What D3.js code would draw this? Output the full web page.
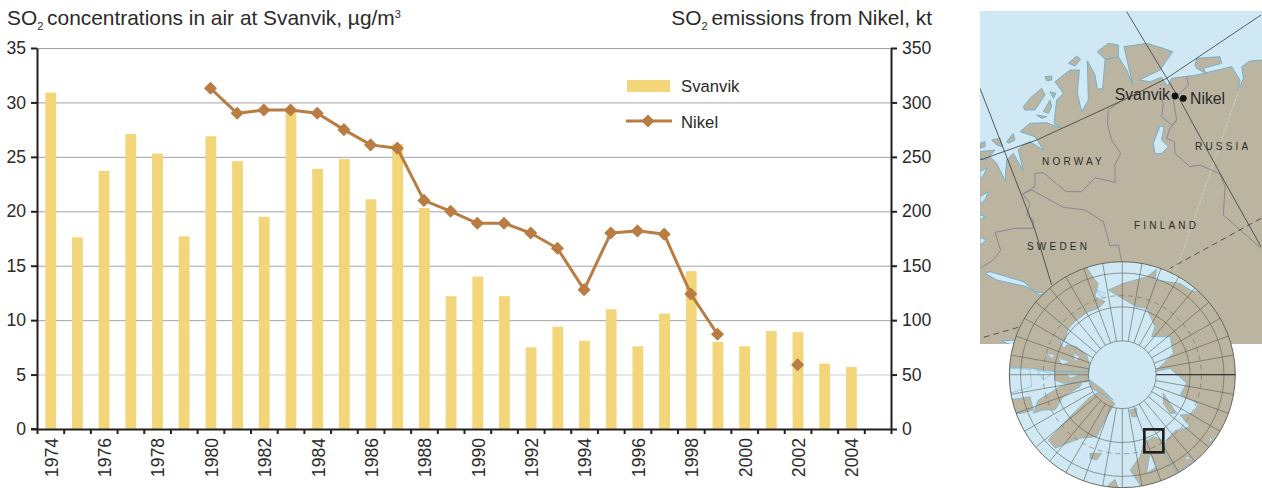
<!DOCTYPE html>
<html><head><meta charset="utf-8">
<script src="https://cdn.jsdelivr.net/npm/d3@7"></script>
<style>html,body{margin:0;padding:0;background:#fff}svg{display:block}text{font-family:"Liberation Sans",Arial,sans-serif;fill:#2b2a29}</style>
</head><body><svg id="c" width="1262" height="488"></svg>
<script>
const years = d3.range(1974, 2006);
const yearLabels = d3.range(1974, 2005, 2);
const svanvik = [30.9,17.6,23.7,27.1,25.3,17.7,26.9,24.6,19.5,29.4,23.9,24.8,21.1,26.2,20.3,12.2,14.0,12.2,7.5,9.4,8.1,11.0,7.6,10.6,14.5,8.0,7.6,9.0,8.9,6.0,5.7,null];
const nikel = [null,null,null,null,null,null,313,290,293,293,290,275,261,258,210,200,189,189,180,166,128,180,182,179,124,87,null,null,59,null,null,null];
const leftTicks = [0,5,10,15,20,25,30,35];
const rightTicks = [0,50,100,150,200,250,300,350];

// Decorative locator map outlines (traced at 3x from map origin)
const mainland = [[-10,482],[30,470],[50,490],[75,542],[80,480],[100,460],[130,512],[115,450],[130,435],[150,425],[190,450],[165,410],[120,395],[150,370],[200,368],[245,385],[222,370],[230,300],[250,280],[225,245],[270,210],[298,210],[292,280],[305,335],[325,300],[322,182],[345,225],[352,268],[368,265],[375,180],[415,170],[440,210],[458,255],[432,140],[500,130],[550,145],[578,155],[540,210],[478,240],[510,245],[545,232],[562,258],[575,235],[650,225],[755,200],[780,240],[775,272],[790,235],[785,200],[810,183],[850,180],[850,1036],[-10,1036]];
const islands = [
 [[352,155],[385,130],[415,135],[415,170],[375,178]],
 [[265,190],[290,168],[302,178],[285,198]],
 [[195,230],[215,228],[215,240],[200,242]],
 [[130,320],[150,295],[185,265],[195,285],[165,330],[135,330]],
 [[190,335],[210,300],[215,320],[205,340]],
 [[210,275],[228,280],[220,295]],
 [[170,345],[200,350],[185,355]],
 [[80,425],[100,400],[105,420],[85,430]],
 [[650,175],[720,170],[725,190],[670,205],[680,222],[650,205],[645,195]],
 [[0,455],[45,450],[20,480],[0,475]],
 [[35,420],[60,415],[68,440],[50,435]],
 [[0,430],[15,425],[15,440],[0,445]]
];
const lakes = [
 [[540,378],[552,380],[545,420],[565,440],[545,460],[525,462],[520,430]],
 [[15,820],[30,815],[130,845],[165,875],[195,880],[180,885],[140,860],[50,840]],
 [[65,1022],[105,1020],[100,1036],[80,1030]],
 [[0,515],[22,503],[8,530],[0,535]],
 [[0,590],[25,575],[15,600],[0,612]],
 [[0,645],[15,650],[0,660]],
 [[0,712],[20,720],[0,735]]
];
const borders = [
 [[420,305],[385,330],[382,370],[395,420],[422,460],[405,495],[405,547],[345,533],[305,575],[258,575],[190,518],[165,520],[165,560],[128,582],[150,610],[140,645],[160,660],[160,685],[105,685],[45,697],[62,750],[40,780],[0,805]],
 [[128,582],[155,570],[250,622],[315,630],[370,665],[390,737],[415,735],[425,785]],
 [[620,228],[625,255],[580,300],[590,360],[575,375],[545,350],[550,310],[540,290]],
 [[590,360],[570,385],[560,415],[583,425],[585,460],[630,500],[660,495],[720,522],[735,560],[730,645],[843,745]]
];
const gridLines = [
 [[440,35],[500,135],[600,300],[720,520],[843,740]],
 [[0,265],[165,690],[215,855]],
 [[843,45],[560,235],[420,305],[170,420],[0,480]]
];
const dashedLines = [[[843,655],[670,750],[570,805]],[[115,982],[0,1015]]];
const paleLine = [[780,260],[610,750],[560,880]];
const mapLabels = [["NORWAY",1042,165],["RUSSIA",1195,150],["FINLAND",1134,229],["SWEDEN",1027,250]];
const towns = [["Svanvik",1175,96],["Nikel",1183.3,98.3]];

// Polar inset outlines (traced at 3x from inset origin)
const polarLand = [
 [[385,150],[425,175],[470,200],[500,205],[525,260],[515,290],[570,290],[580,340],[525,395],[570,385],[620,430],[600,465],[655,490],[640,520],[600,525],[630,560],[585,572],[560,600],[550,640],[590,700],[640,665],[860,640],[860,120],[640,155],[600,130],[525,120],[530,88],[500,110],[430,130]],
 [[345,120],[355,130],[345,170],[375,185],[355,205],[325,215],[290,240],[265,265],[255,300],[240,310],[290,320],[320,345],[328,372],[328,395],[225,395],[150,385],[60,380],[50,80],[305,60]],
 [[60,462],[100,478],[150,470],[160,510],[125,520],[60,520]],
 [[205,600],[260,540],[330,470],[360,455],[405,490],[380,530],[350,590],[300,595],[225,625]],
 [[160,520],[175,480],[240,440],[310,415],[300,440],[250,470],[225,510],[190,510]],
 [[225,395],[325,395],[325,425],[250,430],[225,420]],
 [[330,420],[370,450],[400,480],[335,445]],
 [[330,640],[365,640],[350,660],[330,655]],
 [[450,510],[470,505],[470,530],[455,530]],
 [[550,460],[590,520],[570,520],[550,490]],
 [[450,690],[480,650],[490,610],[520,590],[550,600],[555,640],[590,700],[560,745],[490,750],[470,720]],
 [[385,735],[405,718],[415,745],[385,750]]
];
const polarSeaBits = [
 [[90,385],[150,388],[155,440],[120,450],[90,460]],
 [[200,340],[225,345],[215,355]],[[240,300],[265,310],[250,325]],[[170,390],[215,400],[190,420]],
 [[280,340],[300,350],[285,365]],[[235,355],[270,365],[245,375]],[[260,400],[300,405],[270,415]],
 [[350,150],[375,160],[365,172]],[[690,590],[698,600],[688,606]],[[615,650],[632,652],[622,660]],
 [[510,640],[530,680],[500,700]]
];
const polarColat = [15,30,45,50];
const meridians = d3.range(0,360,10);
const regionBox = [[493,568],[550,637]];

const svg = d3.select("#c");
const plotL = 37, plotR = 891, plotT = 48, plotB = 429;
const ink = "#231f20", barCol = "#f3d67a", lineCol = "#b97c43";
const fontStack = '"Liberation Sans",Arial,sans-serif';

const x = d3.scaleBand().domain(years).range([plotL,plotR]);
const xEdge = d3.scaleLinear().domain([1974,2006]).range([plotL,plotR]);
const yL = d3.scaleLinear().domain([0,35]).range([plotB,plotT]);
const yR = d3.scaleLinear().domain([0,350]).range([plotB,plotT]);

// grid
svg.append("g").selectAll("line").data(leftTicks.filter(d=>d>0)).join("line")
 .attr("x1",plotL).attr("x2",plotR).attr("y1",d=>yL(d)+.5).attr("y2",d=>yL(d)+.5)
 .attr("stroke",d=>d===5?"#dcdcdc":"#a3a3a6").attr("stroke-width",d=>d===5?1.4:1);

// bars
const barW = 10.8;
svg.append("g").selectAll("rect").data(years.map((y,i)=>({y,v:svanvik[i]})).filter(d=>d.v!=null)).join("rect")
 .attr("x",d=>x(d.y)+x.bandwidth()/2-barW/2+.4).attr("width",barW)
 .attr("y",d=>yL(d.v)).attr("height",d=>yL(0)-yL(d.v)).attr("fill",barCol);

// line
const pts = years.map((y,i)=>({y,v:nikel[i]}));
const cx = d=>x(d.y)+x.bandwidth()/2;
const connected = pts.filter(d=>d.v!=null && d.y<2000);
svg.append("path").datum(connected)
 .attr("d",d3.line().x(cx).y(d=>yR(d.v))).attr("fill","none").attr("stroke",lineCol).attr("stroke-width",3);
const diamond = d3.symbol().type(d3.symbolSquare).size(86);
svg.append("g").selectAll("path").data(pts.filter(d=>d.v!=null)).join("path")
 .attr("d",diamond).attr("fill",lineCol)
 .attr("transform",d=>`translate(${cx(d)},${yR(d.v)}) rotate(45)`);

// axes
function styleAxis(g){
 g.selectAll(".domain").attr("stroke",ink).attr("stroke-width",2);
 g.selectAll(".tick line").attr("stroke",ink).attr("stroke-width",2);
 g.selectAll("text").style("font-family",fontStack).style("font-size","17.6px").attr("fill","#2b2a29");
}
svg.append("g").attr("transform",`translate(${plotL},0)`)
 .call(d3.axisLeft(yL).tickValues(leftTicks).tickSize(6).tickSizeOuter(0).tickPadding(5)).call(styleAxis);
svg.append("g").attr("transform",`translate(${plotR},0)`)
 .call(d3.axisRight(yR).tickValues(rightTicks).tickSize(6).tickSizeOuter(0).tickPadding(5)).call(styleAxis);
svg.append("g").attr("transform",`translate(0,${plotB})`)
 .call(d3.axisBottom(xEdge).tickValues(d3.range(1974,2007)).tickFormat("").tickSize(5).tickSizeOuter(0)).call(styleAxis);
svg.append("line").attr("x1",31).attr("x2",plotL).attr("y1",plotB).attr("y2",plotB).attr("stroke",ink).attr("stroke-width",2);
const labelAxis = svg.append("g").attr("transform",`translate(1,${plotB})`)
 .call(d3.axisBottom(x).tickValues(yearLabels).tickSize(0).tickPadding(0));
labelAxis.select(".domain").remove();
labelAxis.selectAll("text").attr("transform","rotate(-90)").attr("x",-9).attr("y",0).attr("dy","0.36em")
 .attr("text-anchor","end").style("font-family",fontStack).style("font-size","17.6px").attr("fill","#2b2a29");

// titles
function title(xp,anchor,a,sup){
 const t = svg.append("text").attr("x",xp).attr("y",25).attr("text-anchor",anchor).style("font-size","20.9px");
 t.append("tspan").text("SO");
 t.append("tspan").attr("dy",5).style("font-size","11px").text("2");
 t.append("tspan").attr("dy",-5).attr("dx",-2).text(a);
 if(sup){t.append("tspan").attr("dy",-7).style("font-size","11px").text(sup);}
}
title(7,"start"," concentrations in air at Svanvik, µg/m","3");
title(932,"end"," emissions from Nikel, kt");

// legend
svg.append("rect").attr("x",627).attr("y",80).attr("width",43).attr("height",12).attr("fill",barCol);
svg.append("text").attr("x",681).attr("y",92).style("font-size","16.7px").text("Svanvik");
svg.append("line").attr("x1",626).attr("x2",672).attr("y1",121).attr("y2",121).attr("stroke",lineCol).attr("stroke-width",3);
svg.append("path").attr("d",diamond).attr("fill",lineCol).attr("transform","translate(648,121) rotate(45)");
svg.append("text").attr("x",681).attr("y",128).style("font-size","16.7px").text("Nikel");

// ---- locator map
const mapG = svg.append("g");
const defs = svg.append("defs");
defs.append("clipPath").attr("id","mapClip").append("rect").attr("x",980).attr("y",11).attr("width",282).attr("height",333);
const mx = d3.scaleLinear().domain([0,843]).range([980,1261]);
const my = d3.scaleLinear().domain([0,750]).range([0,250]);
const mline = d3.line().x(d=>mx(d[0])).y(d=>my(d[1]));
const mg = mapG.append("g").attr("clip-path","url(#mapClip)");
const sea="#cfe8f3", land="#bab4a1", coast="#6aaecb", border="#8d8590";
mg.append("rect").attr("x",980).attr("y",11).attr("width",282).attr("height",333).attr("fill",sea);
mg.append("path").attr("d",mline(mainland)+"Z").attr("fill",land).attr("stroke",coast).attr("stroke-width",.9);
mg.selectAll(".isl").data(islands).join("path").attr("class","isl").attr("d",d=>mline(d)+"Z").attr("fill",land).attr("stroke",coast).attr("stroke-width",.9);
mg.selectAll(".lake").data(lakes).join("path").attr("class","lake").attr("d",d=>mline(d)+"Z").attr("fill",sea).attr("stroke",coast).attr("stroke-width",.9);
mg.selectAll(".bord").data(borders).join("path").attr("class","bord").attr("d",mline).attr("fill","none").attr("stroke",border).attr("stroke-width",1);
mg.append("path").attr("d",mline(paleLine)).attr("fill","none").attr("stroke","#cfd6c4").attr("stroke-width",.8).attr("stroke-dasharray","3 1");
mg.selectAll(".gr").data(gridLines).join("path").attr("class","gr").attr("d",mline).attr("fill","none").attr("stroke","#3a3a3a").attr("stroke-width",.8);
mg.selectAll(".da").data(dashedLines).join("path").attr("class","da").attr("d",mline).attr("fill","none").attr("stroke","#3a3a3a").attr("stroke-width",.8).attr("stroke-dasharray","6 4");

// ---- polar inset
const R = 113, pcx = 1122.3, pcy = 374.7;
const proj = d3.geoAzimuthalEquidistant().rotate([0,-90]).scale(R/(50*Math.PI/180)).translate([pcx,pcy]).clipAngle(90);
const geo = d3.geoPath(proj);
defs.append("clipPath").attr("id","polarClip").append("circle").attr("cx",pcx).attr("cy",pcy).attr("r",R);
const pg = mapG.append("g");
pg.append("circle").attr("cx",pcx).attr("cy",pcy).attr("r",R).attr("fill",sea);
const px = d3.scaleLinear().domain([0,843]).range([980,1261]);
const py = d3.scaleLinear().domain([0,744]).range([240,488]);
const pline = d3.line().x(d=>px(d[0])).y(d=>py(d[1]));
const pin = pg.append("g").attr("clip-path","url(#polarClip)");
pin.selectAll(".pl").data(polarLand).join("path").attr("class","pl").attr("d",d=>pline(d)+"Z").attr("fill",land).attr("stroke",coast).attr("stroke-width",.6);
pin.selectAll(".ps").data(polarSeaBits).join("path").attr("class","ps").attr("d",d=>pline(d)+"Z").attr("fill",sea).attr("stroke",coast).attr("stroke-width",.5);
// graticule
const meridianGeo = meridians.map(l=>({type:"LineString",coordinates:d3.range(75,39,-5).map(lat=>[l,lat])}));
pg.selectAll(".me").data(meridianGeo).join("path").attr("class","me").attr("d",geo).attr("fill","none").attr("stroke","#5d5a52").attr("stroke-width",.6);
pg.selectAll(".ring").data(polarColat).join("circle").attr("class","ring").attr("cx",pcx).attr("cy",pcy).attr("r",d=>R*d/50).attr("fill","none").attr("stroke","#5d5a52").attr("stroke-width",d=>d===50?.9:.6);
pg.append("circle").attr("cx",pcx).attr("cy",pcy).attr("r",R*35/50).attr("fill","none").attr("stroke","#5d5a52").attr("stroke-width",.5).attr("stroke-dasharray","5 4");
pg.append("line").attr("x1",pcx+R*15/50).attr("x2",pcx+R).attr("y1",pcy).attr("y2",pcy).attr("stroke","#222").attr("stroke-width",1);
pg.append("rect").attr("x",px(regionBox[0][0])).attr("y",py(regionBox[0][1]))
 .attr("width",px(regionBox[1][0])-px(regionBox[0][0])).attr("height",py(regionBox[1][1])-py(regionBox[0][1]))
 .attr("fill","none").attr("stroke","#1f1d1c").attr("stroke-width",2.6);

// map text
mapG.selectAll(".ml").data(mapLabels).join("text").attr("class","ml").attr("x",d=>d[1]).attr("y",d=>d[2])
 .style("font-size","10px").style("letter-spacing","3.2px").text(d=>d[0]);
mapG.append("circle").attr("cx",towns[0][1]).attr("cy",towns[0][2]).attr("r",3.4).attr("fill","#111");
mapG.append("circle").attr("cx",towns[1][1]).attr("cy",towns[1][2]).attr("r",3.4).attr("fill","#111");
mapG.append("text").attr("x",1170).attr("y",100).attr("text-anchor","end").style("font-size","15.8px").text(towns[0][0]);
mapG.append("text").attr("x",1190).attr("y",104).style("font-size","15.8px").text(towns[1][0]);
</script></body></html>
